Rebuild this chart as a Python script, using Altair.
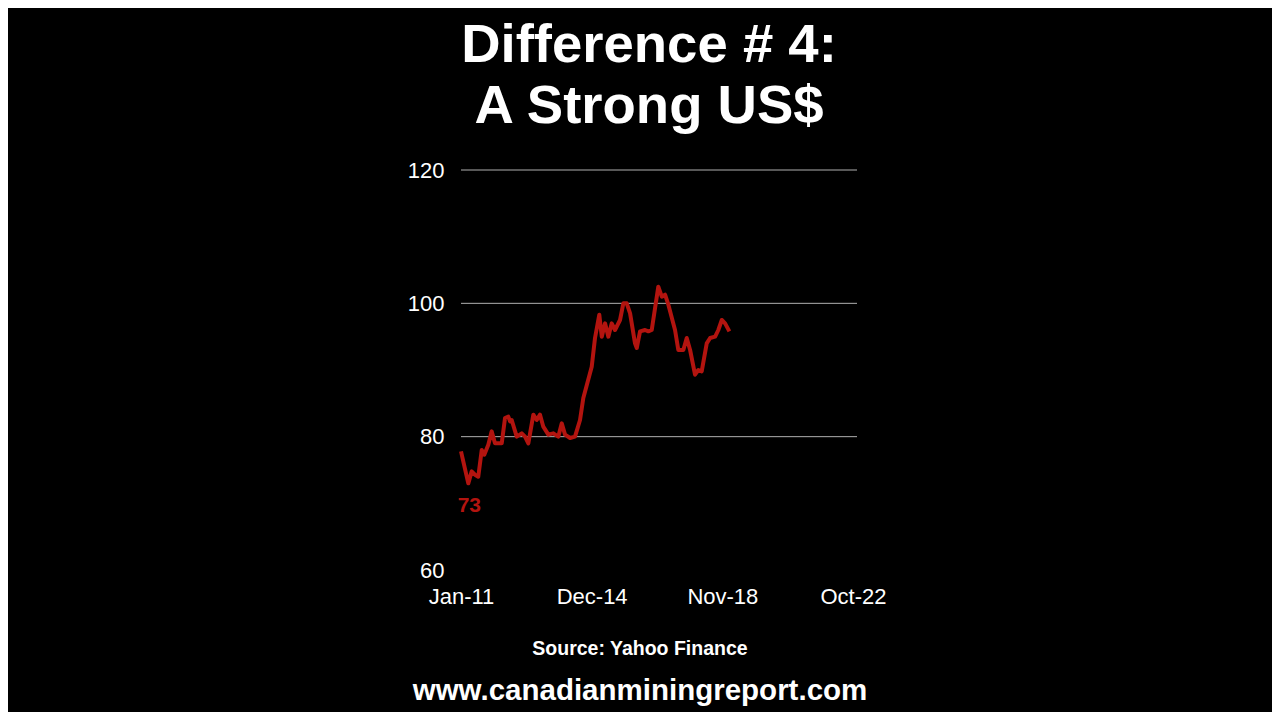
import altair as alt
import pandas as pd

# ---- data ----
dates = [
    "2011-01-01", "2011-03-22", "2011-04-28", "2011-06-03", "2011-07-09", "2011-08-16",
    "2011-09-13", "2011-10-27", "2011-12-03", "2012-01-08", "2012-03-22", "2012-04-27",
    "2012-06-02", "2012-06-21", "2012-07-09", "2012-09-02", "2012-10-27", "2012-12-02",
    "2013-01-07", "2013-03-03", "2013-04-09", "2013-05-15", "2013-06-20", "2013-08-14",
    "2013-10-08", "2013-12-01", "2014-01-08", "2014-02-13", "2014-04-09", "2014-06-02",
    "2014-07-27", "2014-09-01", "2014-12-02", "2015-01-07", "2015-02-23", "2015-03-22",
    "2015-04-27", "2015-06-02", "2015-07-09", "2015-08-14", "2015-10-08", "2015-11-13",
    "2015-12-20", "2016-01-26", "2016-03-20", "2016-04-08", "2016-05-14", "2016-07-08",
    "2016-08-13", "2016-09-19", "2016-11-30", "2017-01-07", "2017-02-12", "2017-03-20",
    "2017-06-01", "2017-07-07", "2017-08-31", "2017-10-07", "2017-11-13", "2018-01-06",
    "2018-02-11", "2018-03-20", "2018-05-14", "2018-06-20", "2018-08-14", "2018-09-18",
    "2018-10-26", "2018-12-01", "2019-01-17",
]
usd_index = [
    77.8, 73.0, 74.8, 74.3, 74.0, 78.0,
    77.3, 78.8, 80.8, 79.0, 79.0, 82.8,
    83.0, 82.3, 82.5, 80.0, 80.5, 80.0,
    79.0, 83.3, 82.5, 83.3, 81.5, 80.3,
    80.5, 80.0, 82.0, 80.3, 79.8, 80.0,
    82.5, 85.8, 90.5, 94.8, 98.3, 95.0,
    97.0, 95.0, 97.0, 96.0, 97.5, 100.0,
    100.0, 98.5, 94.0, 93.3, 95.8, 96.0,
    95.8, 96.0, 102.5, 101.0, 101.3, 99.8,
    96.0, 93.0, 93.0, 94.8, 93.0, 89.3,
    90.0, 89.8, 94.0, 94.8, 95.0, 96.0,
    97.5, 97.0, 95.8,
]
y_ticks = [60, 80, 100, 120]
grid_values = [80, 100, 120]
x_tick_dates = [(2011, 1), (2014, 12), (2018, 11), (2022, 10)]
low_date = "2011-03-22"
low_label = "73"
title_lines = ["Difference # 4:", "A Strong US$"]
source_text = "Source: Yahoo Finance"
website_text = "www.canadianminingreport.com"

FONT = "Liberation Sans"
RED = "#B3140F"
W, H = 396, 400

df = pd.DataFrame({"date": dates, "value": usd_index})
low_df = pd.DataFrame({"date": [low_date], "value": [min(usd_index)], "label": [low_label]})

x_scale = alt.Scale(
    type="utc",
    domain=[alt.DateTime(year=2011, month=1, date=1, utc=True),
            alt.DateTime(year=2022, month=11, date=14, utc=True)],
)
y_scale = alt.Scale(domain=[60, 120], nice=False, zero=False)

x_axis = alt.Axis(
    values=[alt.DateTime(year=y, month=m, date=1, utc=True) for y, m in x_tick_dates],
    labelExpr="utcFormat(datum.value, '%b-%y')",
    grid=False, ticks=False, domain=False,
    labelColor="white", labelFont=FONT, labelFontSize=22,
    labelPadding=16, labelAlign="center", labelBaseline="top",
    title=None,
)
y_axis = alt.Axis(
    values=y_ticks, grid=False, ticks=False, domain=False,
    labelColor="white", labelFont=FONT, labelFontSize=22,
    labelPadding=17, title=None,
)

grid = alt.Chart(pd.DataFrame({"g": grid_values})).mark_rule(
    color="#b0b0b0", strokeWidth=1
).encode(
    y=alt.Y("g:Q", scale=y_scale, axis=y_axis),
    x=alt.value(0), x2=alt.value(W),
)

line = alt.Chart(df).mark_line(color=RED, strokeWidth=4, strokeJoin="round").encode(
    x=alt.X("date:T", scale=x_scale, axis=x_axis),
    y=alt.Y("value:Q", scale=y_scale, axis=y_axis),
)

low_text = alt.Chart(low_df).mark_text(
    color=RED, font=FONT, fontSize=21, fontWeight="bold",
    align="center", baseline="top", dy=12, dx=1,
).encode(
    x=alt.X("date:T", scale=x_scale),
    y=alt.Y("value:Q", scale=y_scale),
    text="label:N",
)

def text_layer(txt, x, y, size):
    return alt.Chart(pd.DataFrame({"t": [txt]})).mark_text(
        color="white", font=FONT, fontSize=size, fontWeight="bold",
        align="center", baseline="alphabetic",
    ).encode(text="t:N", x=alt.value(x), y=alt.value(y))

t1 = text_layer(title_lines[0], 188, -108, 54.5)
t2 = text_layer(title_lines[1], 188, -47, 54.5)
src = text_layer(source_text, 179, 485, 19.5)
web = text_layer(website_text, 179, 530, 29.5)

chart = alt.layer(grid, line, low_text, t1, t2, src, web).properties(
    width=W, height=H,
    autosize=alt.AutoSizeParams(type="none"),
    padding={"left": 453, "top": 162, "right": 415, "bottom": 142},
    background="black",
).configure_view(stroke=None)

chart.save("out.html", embed_options={"renderer": "svg", "actions": False})
